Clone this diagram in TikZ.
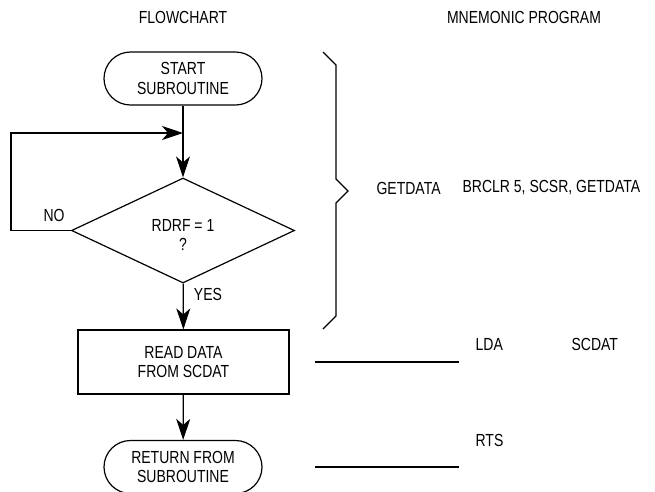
\documentclass[tikz,border=0pt]{standalone}
\usepackage{fontspec}
\setmainfont{Liberation Sans}[FakeStretch=0.8]
\usetikzlibrary{arrows.meta,shapes.geometric}
\begin{document}
\begin{tikzpicture}[x=1pt,y=-1pt,
  every node/.style={font=\fontsize{17.5}{19.5}\selectfont, inner sep=0pt},
  line width=1.2pt,
  term/.style={draw, rectangle, rounded corners=26.5pt, minimum width=158pt, minimum height=53pt, align=center},
  proc/.style={draw, rectangle, minimum width=211pt, minimum height=64pt, align=center},
  dec/.style={draw, diamond, minimum width=223pt, minimum height=105pt},
  arr/.style={-{Stealth[length=21pt,width=14pt,inset=6pt]}},
  lbl/.style={anchor=west}]
\useasboundingbox (0,0) rectangle (655,491);
% titles
\node (t1) at (183,17) {FLOWCHART};
\node (t2) at (524,17) {MNEMONIC PROGRAM};
% flowchart
\node[term] (start) at (183,78.5) {START\\SUBROUTINE};
\node[dec] (dec) at (183,230.5) {};
\node[align=center] (dectext) at (183,235) {RDRF = 1\\?};
\node[proc] (read) at (183.5,362) {READ DATA\\FROM SCDAT};
\node[term] (ret) at (183,467) {RETURN FROM\\SUBROUTINE};
\coordinate (j) at (183,133);
\coordinate (lp) at (11,133);
\draw[arr] (start) -- (dec);
\draw[arr] (dec.west) -| (lp) -- (j);
\draw[arr] (dec) -- (read);
\draw[arr] (read) -- (ret);
\node (no) at (54,215) {NO};
\node (yes) at (208,294) {YES};
% brace
\draw[line join=miter] (323,52) -- (336,65) -- (336,179) -- (348,191) -- (336,203) -- (336,316) -- (323,329);
% program
\node[lbl] (g) at (376,188) {GETDATA};
\node[lbl] (br) at (462,188) {BRCLR 5, SCSR, GETDATA};
\node[lbl] (lda) at (475,344) {LDA};
\node[lbl] (sc) at (571,344) {SCDAT};
\node[lbl] (rts) at (475,440) {RTS};
\coordinate (l1a) at (315,362);
\coordinate (l1b) at (459,362);
\coordinate (l2a) at (315,467);
\coordinate (l2b) at (459,467);
\draw (l1a) -- (l1b);
\draw (l2a) -- (l2b);
\end{tikzpicture}
\end{document}
